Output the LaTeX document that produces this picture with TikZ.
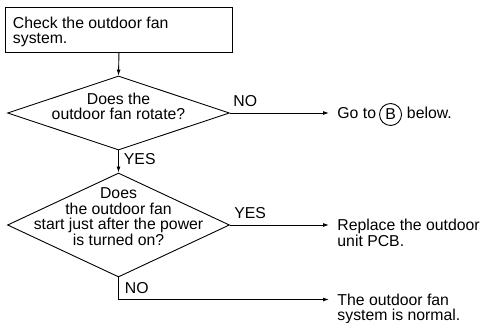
\documentclass[tikz,border=0pt]{standalone}
\usepackage{fontspec}
\setmainfont{Liberation Sans}
\usetikzlibrary{shapes.geometric,arrows.meta}
\begin{document}
\begin{tikzpicture}[x=1pt,y=-1pt,
  font=\fontsize{15.8}{15.5}\selectfont,
  line width=0.9pt,
  flow/.style={-{Latex[length=6pt,width=4pt]}},
  stepbox/.style={draw, anchor=north west, minimum width=227pt, minimum height=45pt, inner sep=0pt},
  boxtext/.style={anchor=north west, align=left, inner sep=0pt,
    font=\fontsize{15.8}{14.5}\selectfont},
  decision/.style={draw, diamond, inner sep=0pt, minimum width=222pt},
  qtext/.style={align=center, inner sep=0pt},
  result/.style={anchor=north west, align=left, inner xsep=8pt, inner ysep=0pt},
  sidelbl/.style={pos=0, anchor=south west, inner xsep=3pt, inner ysep=5.5pt},
  downlbl/.style={pos=0, anchor=north west, inner xsep=5pt, inner ysep=3pt}
]
\useasboundingbox (0,0) rectangle (485,323);

% process box and the two decisions
\node[stepbox] (check) at (5,7) {};
\node[boxtext] (checkt) at (12.5,17) {Check the outdoor fan\\system.};
\node[decision, minimum height=74pt] (rot) at (118.5,113) {};
\node[qtext] (rotq) at (118.5,106.5) {Does the\\outdoor fan rotate?};
\node[decision, minimum height=104pt] (start) at (118.5,225) {};
\node[qtext] (startq) at (118.5,216.5) {Does\\the outdoor fan\\start just after the power\\is turned on?};

% outcomes on the right
\node[anchor=west, inner xsep=8pt, inner ysep=0pt] (goto) at (329,113) {Go to};
\node[draw, circle, minimum size=22pt, inner sep=0pt] (bmark)
  at ([xshift=6pt,yshift=-1.5pt]goto.east) {B};
\node[anchor=base west, inner sep=0pt] (below) at ([xshift=22pt]goto.base east) {below.};
\node[result] (pcb) at (329,219) {Replace the outdoor\\unit PCB.};
\node[result] (normal) at (329,293.5) {The outdoor fan\\system is normal.};

% connectors
\draw[flow] (check.south) -- (rot.north);
\draw[flow] (rot.south) -- node[downlbl] {YES} (start.north);
\draw[flow] (rot.east) -- node[sidelbl] {NO} (goto.west);
\draw[flow] (start.east) -- node[sidelbl, inner xsep=4pt, inner ysep=6pt] {YES} (pcb.north west |- start.east);
\draw[flow] (start.south) |- node[pos=0, anchor=north west, inner xsep=6pt, inner ysep=5pt] {NO}
  ([yshift=-6pt]normal.north west);
\end{tikzpicture}
\end{document}
